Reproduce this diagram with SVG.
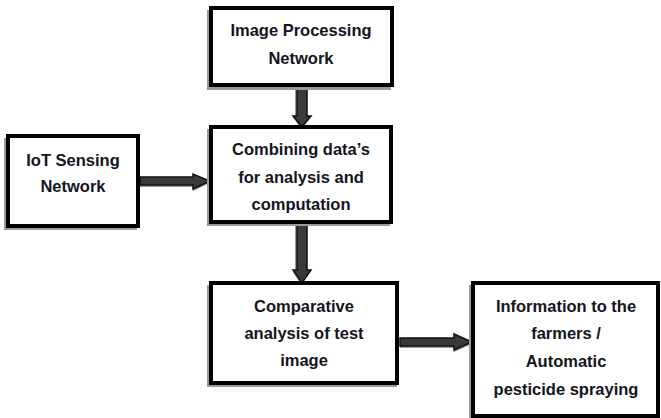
<svg xmlns="http://www.w3.org/2000/svg" width="661" height="418" viewBox="0 0 661 418">
<style>
.sh{fill:#9a9a9a}
.bx{fill:#fff;stroke:#000;stroke-width:4}
.t{font-family:"Liberation Sans",Arial,sans-serif;font-weight:bold;font-size:16.5px;fill:#141422;text-anchor:middle}
.ar{fill:#3a3a3a;stroke:#111;stroke-width:1.5;stroke-linejoin:miter}
.as{fill:#999}
</style>
<rect width="661" height="418" fill="#fff"/>
<g id="connectors">
<g id="c1">
<polygon class="as" points="295,88 305,88 305,117 309,117 301,129 293,117 295,117"/>
<polygon class="ar" points="297,86 307,86 307,116 311,116 302,127 293,116 297,116"/>
</g>
<g id="c2">
<polygon class="as" points="295,224 305,224 305,272 309,272 301,285 293,272 295,272"/>
<polygon class="ar" points="297,222 307,222 307,270 311,270 302,283 293,270 297,270"/>
</g>
<g id="c3">
<polygon class="as" points="140,179 193,179 193,176 210,183 193,191 193,187 140,187"/>
<polygon class="ar" points="140,177 193,177 193,174 210,181 193,189 193,185 140,185"/>
</g>
<g id="c4">
<polygon class="as" points="400,340 454,340 454,336 472,344 454,352 454,348 400,348"/>
<polygon class="ar" points="400,338 454,338 454,334 472,342 454,350 454,346 400,346"/>
</g>
</g>
<g id="n1">
<rect class="sh" x="207" y="10" width="184" height="80"/>
<rect class="bx" x="211" y="8" width="181" height="77"/>
<text class="t" x="301" y="36">Image Processing</text>
<text class="t" x="301" y="64">Network</text>
</g>
<g id="n2">
<rect class="sh" x="207" y="129" width="183" height="97"/>
<rect class="bx" x="211" y="127" width="180" height="95"/>
<text class="t" x="301" y="155">Combining data’s</text>
<text class="t" x="301" y="183">for analysis and</text>
<text class="t" x="301" y="210">computation</text>
</g>
<g id="n3">
<rect class="sh" x="4" y="138" width="133" height="92"/>
<rect class="bx" x="8" y="136" width="130" height="90"/>
<text class="t" x="73" y="166">IoT Sensing</text>
<text class="t" x="73" y="192">Network</text>
</g>
<g id="n4">
<rect class="sh" x="207" y="285" width="190" height="102"/>
<rect class="bx" x="211" y="283" width="186" height="100"/>
<text class="t" x="304" y="312">Comparative</text>
<text class="t" x="304" y="339">analysis of test</text>
<text class="t" x="304" y="366">image</text>
</g>
<g id="n5">
<rect class="sh" x="469" y="285" width="190" height="135"/>
<rect class="bx" x="473" y="283" width="185" height="133"/>
<text class="t" x="566" y="312">Information to the</text>
<text class="t" x="566" y="339">farmers  /</text>
<text class="t" x="566" y="367">Automatic</text>
<text class="t" x="566" y="395">pesticide spraying</text>
</g>
</svg>
